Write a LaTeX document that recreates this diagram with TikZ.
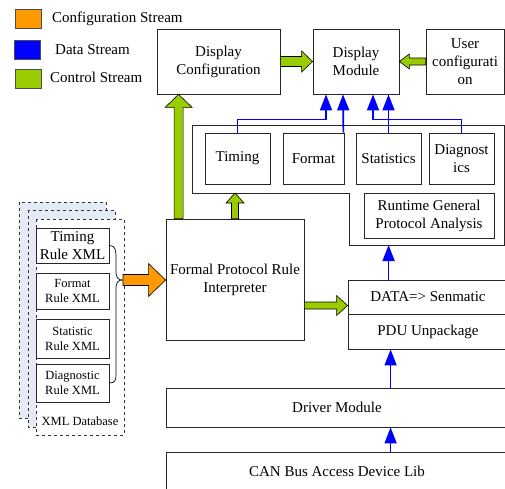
\documentclass[tikz,border=0pt]{standalone}
\usepackage{fontspec}
\setmainfont{Liberation Serif}
\usetikzlibrary{calc,arrows.meta}

\definecolor{cfgorange}{HTML}{FF9900}
\definecolor{ctrlgreen}{HTML}{99CC00}
\definecolor{datablue}{HTML}{0000FF}
\definecolor{pageblue}{HTML}{E4EBF6}

% outlined block arrow: from, to, body half width, head half width, head length, fill
\newcommand\fatarrow[6]{%
  \coordinate (fatA) at (#1);
  \coordinate (fatB) at (#2);
  \coordinate (fatC) at ($(fatB)!#5!(fatA)$);
  \draw[line width=0.6pt, fill=#6, line join=miter]
    ($(fatA)!#3!90:(fatB)$) -- ($(fatC)!#3!90:(fatB)$) -- ($(fatC)!#4!90:(fatB)$)
    -- (fatB)
    -- ($(fatC)!#4!-90:(fatB)$) -- ($(fatC)!#3!-90:(fatB)$) -- ($(fatA)!#3!-90:(fatB)$) -- cycle;
}

\begin{document}
\begin{tikzpicture}[x=1pt,y=-1pt,
  box/.style={draw=black!85, line width=0.8pt, fill=white, align=center, inner sep=1pt,
    font=\fontsize{15}{18}\selectfont},
  smallbox/.style={box, font=\fontsize{12.5}{15}\selectfont},
  datalink/.style={draw=datablue, line width=1.7pt, -{Triangle[length=16pt,width=12pt]}},
  legendsq/.style={draw=black!70, line width=0.6pt, minimum width=26pt, minimum height=19pt, inner sep=0pt},
  legendtext/.style={anchor=west, inner sep=0pt, font=\fontsize{15}{18}\selectfont},
  page/.style={draw=black!80, dashed, line width=0.6pt},
]
\useasboundingbox (0,0) rectangle (505,488);

% legend
\node[legendsq, fill=cfgorange] (lgo) at (28,18.5) {};
\node[legendtext] (lgotext) at (52,19) {Configuration Stream};
\node[legendsq, fill=datablue] (lgb) at (27.5,49.5) {};
\node[legendtext] (lgbtext) at (55,50) {Data Stream};
\node[legendsq, fill=ctrlgreen] (lgg) at (28,78.5) {};
\node[legendtext] (lggtext) at (50,77) {Control Stream};

% top row
\node[box, minimum width=123pt, minimum height=65pt] (dcfg) at (218.5,61.5) {Display\\Configuration};
\node[box, minimum width=86pt, minimum height=65pt] (dmod) at (356,61.5) {Display\\Module};
\node[box, minimum width=78pt, minimum height=65pt] (ucfg) at (465,61.5) {User\\configurati\\on};

% analysis panel
\coordinate (panelNW) at (192,125);
\coordinate (panelSE) at (504,245);
\coordinate (panelNotch) at (349,193);
\draw[draw=black!85, line width=0.8pt] (panelNW) -- (panelNW -| panelSE) -- (panelSE)
  -- (panelSE -| panelNotch) -- (panelNotch) -- (panelNotch -| panelNW) -- cycle;

\node[box, minimum width=65pt, minimum height=51pt] (timing) at (237.5,158.5) {Timing};
\node[box, minimum width=61pt, minimum height=51pt] (format) at (313.5,158.5) {Format};
\node[box, minimum width=65pt, minimum height=51pt] (stats) at (388.5,158.5) {Statistics};
\node[box, minimum width=65pt, minimum height=51pt] (diag) at (461.5,158.5) {Diagnost\\ics};
\node[box, minimum width=130pt, minimum height=45pt] (rgpa) at (429,215.5) {Runtime General\\Protocol Analysis};

% interpreter and lower stack
\node[box, minimum width=138pt, minimum height=121pt] (interp) at (235,279.5) {Formal Protocol Rule\\Interpreter};
\node[box, minimum width=160pt, minimum height=34pt] (data) at (428,297) {DATA=> Senmatic};
\node[box, minimum width=160pt, minimum height=35pt] (pdu) at (428,331.5) {PDU Unpackage};
\node[box, minimum width=342pt, minimum height=39pt] (driver) at (337,407.5) {Driver Module};
\node[box, minimum width=342pt, minimum height=38pt] (can) at (337,471) {CAN Bus Access Device Lib};

% XML database pages
\draw[page, fill=pageblue] (19,202) rectangle (106,418);
\draw[page, fill=pageblue] (28,210) rectangle (115,427);
\draw[page, fill=white] (36,219) rectangle (124,435);
\node[box, minimum width=73pt, minimum height=35pt] (rtiming) at (72.5,245.5) {Timing\\Rule XML};
\node[smallbox, minimum width=73pt, minimum height=36pt] (rformat) at (72.5,291) {Format\\Rule XML};
\node[smallbox, minimum width=73pt, minimum height=39pt] (rstat) at (72.5,338.5) {Statistic\\Rule XML};
\node[smallbox, minimum width=73pt, minimum height=38pt] (rdiag) at (72.5,383) {Diagnostic\\Rule XML};
\node[font=\fontsize{12.5}{15}\selectfont, inner sep=0pt] (xmlname) at (80,421) {XML Database};

% brace gathering the rule files
\coordinate (bracetip) at (123,280);
\draw[line width=0.7pt]
  (rtiming.east) .. controls ($(rtiming.east)+(6,0)$) and (116,250) .. (116,258)
  -- (116,271) .. controls (116,278) and (118,280) .. (bracetip)
  .. controls (118,280) and (116,282) .. (116,289)
  -- (116,374) .. controls (116,380) and ($(rdiag.east)+(6,0)$) .. (rdiag.east);

% configuration stream
\fatarrow{bracetip}{bracetip -| interp.west}{5.5pt}{16.5pt}{17pt}{cfgorange}

% control streams
\coordinate (g1) at ($(interp.north west)+(13,0)$);
\fatarrow{g1}{g1 |- dcfg.south}{4.5pt}{13.5pt}{13pt}{ctrlgreen}
\fatarrow{interp.north}{interp.north |- panelNotch}{3.5pt}{9pt}{10pt}{ctrlgreen}
\fatarrow{dcfg.east}{dmod.west}{5pt}{10.5pt}{11pt}{ctrlgreen}
\fatarrow{ucfg.west}{dmod.east}{3.5pt}{7.5pt}{10pt}{ctrlgreen}
\coordinate (g5) at ($(interp.east)+(0,26)$);
\fatarrow{g5}{g5 -| data.west}{3.5pt}{10pt}{11pt}{ctrlgreen}

% data streams
\draw[datalink] (timing.north) -- ++(0,-13) -| ($(dmod.south)+(-30,0)$);
\draw[datalink] ($(format.north east)+(-1,0)$) -- ($(dmod.south)+(-13,0)$);
\draw[datalink] (stats.north) -- (stats.north |- dmod.south);
\draw[datalink] (diag.north) -- ++(0,-13) -| ($(dmod.south)+(17,0)$);
\coordinate (b1) at ($(data.north west)+(41,0)$);
\draw[datalink] (b1) -- (b1 |- panelSE);
\coordinate (b2) at ($(driver.north west)+(225,0)$);
\draw[datalink] (b2) -- (b2 |- pdu.south);
\coordinate (b3) at ($(can.north west)+(225,0)$);
\draw[datalink] (b3) -- (b3 |- driver.south);
\end{tikzpicture}
\end{document}
